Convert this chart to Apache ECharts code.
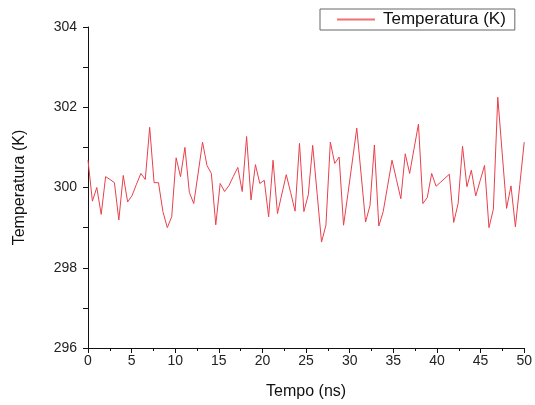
<!DOCTYPE html>
<html>
<head>
<meta charset="utf-8">
<title>Temperatura</title>
<script src="https://cdn.jsdelivr.net/npm/echarts@6/dist/echarts.min.js"></script>
<style>
	html, body { margin: 0; padding: 0; background: #fff; }
	#chart { width: 535px; height: 405px; }
</style>
</head>
<body>
<div id="chart"></div>
<script>
// Temperatura (K), 100 amostras de 0 a 50 ns
var temperatura = [
	300.68, 299.66, 300.00, 299.33, 300.27, 300.20, 300.12, 299.19, 300.30, 299.64,
	299.80, 300.08, 300.35, 300.20, 301.50, 300.12, 300.12, 299.40, 299.00, 299.27,
	300.74, 300.27, 301.00, 299.88, 299.60, 300.36, 301.13, 300.55, 300.35, 299.07,
	300.10, 299.90, 300.05, 300.28, 300.50, 299.90, 301.27, 299.69, 300.57, 300.10,
	300.18, 299.27, 300.68, 299.35, 299.84, 300.32, 299.87, 299.41, 301.10, 299.40,
	299.82, 301.05, 299.85, 298.64, 299.06, 301.13, 300.60, 300.76, 299.06, 299.85,
	300.66, 301.48, 300.31, 299.14, 299.55, 301.06, 299.04, 299.40, 300.04, 300.68,
	300.20, 299.72, 300.84, 300.35, 300.97, 301.58, 299.60, 299.75, 300.35, 300.03,
	300.13, 300.23, 300.33, 299.13, 299.60, 301.03, 300.02, 300.43, 299.79, 300.17,
	300.55, 299.00, 299.46, 302.25, 300.86, 299.48, 300.04, 299.02, 300.07, 301.13
];
var tempoFinal = 50; // ns
var passo = tempoFinal / (temperatura.length - 1); // ns entre amostras

var xTicks = [0, 5, 10, 15, 20, 25, 30, 35, 40, 45, 50];
var yTicks = [296, 298, 300, 302, 304];

// pares [tempo, temperatura]
var dados = [];
for (var i = 0; i < temperatura.length; i++) {
	dados.push([i * passo, temperatura[i]]);
}

var fonte = 'Liberation Sans, Arial, sans-serif';
var corLinha = '#e8404c';
var myChart = echarts.init(document.getElementById('chart'));

var option = {
	animation : false,
	textStyle : { fontFamily : fonte },
	grid : {
		left : 88,
		right : 6,
		top : 27,
		bottom : 53
	},
	legend : {
		data : [ { name : 'Temperatura (K)', icon : 'rect' } ],
		left : 320,
		top : 9,
		padding : [ 2, 9, 2, 17 ],
		borderColor : '#666',
		borderWidth : 1,
		itemWidth : 38,
		itemHeight : 2,
		itemStyle : { color : corLinha, borderWidth : 0, opacity : 0.75 },
		lineStyle : { width : 0 },
		textStyle : {
			fontFamily : fonte,
			fontSize : 17,
			color : '#111',
			padding : [ 0, 0, 0, 3 ]
		}
	},
	xAxis : {
		type : 'value',
		min : xTicks[0],
		max : xTicks[xTicks.length - 1],
		interval : 5,
		name : 'Tempo (ns)',
		nameLocation : 'middle',
		nameGap : 36,
		nameTextStyle : { fontFamily : fonte, fontSize : 16, color : '#111' },
		axisLine : { lineStyle : { color : '#111', width : 1 } },
		axisTick : { length : 5, lineStyle : { color : '#111' } },
		minorTick : { show : true, splitNumber : 2, length : 3, lineStyle : { color : '#111' } },
		axisLabel : { fontFamily : fonte, fontSize : 14, color : '#222', margin : 6 },
		splitLine : { show : false }
	},
	yAxis : {
		type : 'value',
		min : yTicks[0],
		max : yTicks[yTicks.length - 1],
		interval : 1,
		name : 'Temperatura (K)',
		nameLocation : 'middle',
		nameGap : 60,
		nameTextStyle : { fontFamily : fonte, fontSize : 16, color : '#111' },
		axisLine : { show : true, lineStyle : { color : '#111', width : 1 } },
		axisTick : { show : true, length : 5, lineStyle : { color : '#111' } },
		axisLabel : {
			fontFamily : fonte,
			fontSize : 14,
			color : '#222',
			margin : 11,
			formatter : function(v) {
				return yTicks.indexOf(v) >= 0 ? String(v) : '';
			}
		},
		splitLine : { show : false }
	},
	series : [ {
		name : 'Temperatura (K)',
		type : 'line',
		data : dados,
		symbol : 'none',
		lineStyle : { color : corLinha, width : 1 },
		itemStyle : { color : corLinha }
	} ]
};
myChart.setOption(option);
</script>
</body>
</html>
